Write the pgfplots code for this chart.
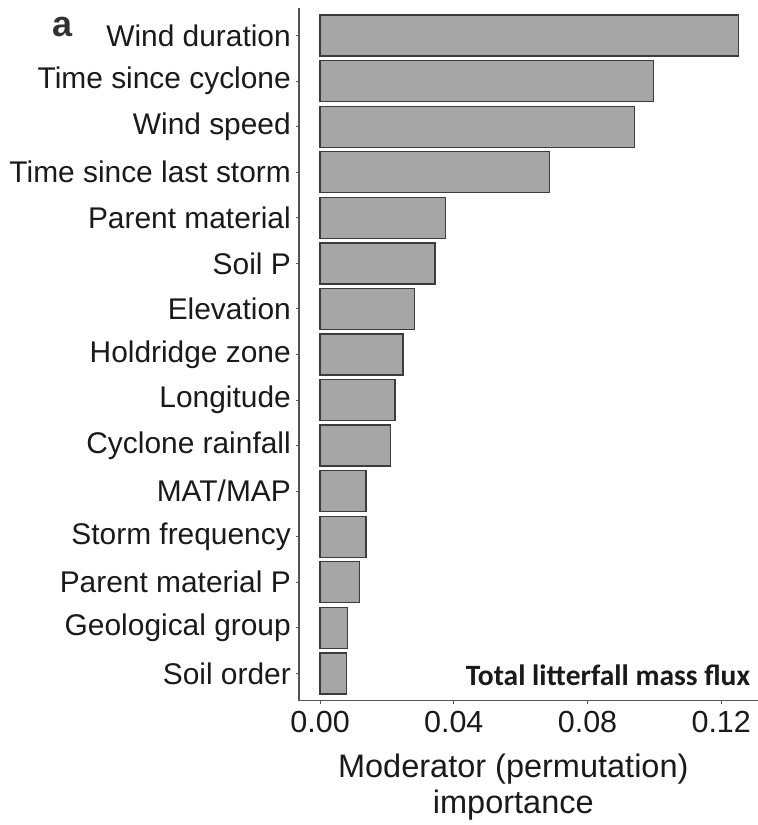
\documentclass[border=0pt]{standalone}
\usepackage{pgfplots}
\pgfplotsset{compat=1.18}
\usepackage{fontspec}
\setmainfont{Liberation Sans}
\newfontfamily\carlito{Carlito}
\definecolor{barfill}{RGB}{166,166,166}
\definecolor{barline}{RGB}{60,60,60}
\definecolor{axisgray}{RGB}{85,85,85}
\definecolor{txt}{RGB}{26,26,26}
\begin{document}
\begin{tikzpicture}
\useasboundingbox (-299pt,-124.3pt) rectangle (459pt,700.7pt);
\begin{axis}[
  anchor=south west, at={(0pt,0pt)},
  scale only axis, width=459pt, height=692.4pt,
  xmin=-0.0063, xmax=0.131, ymin=-0.6, ymax=14.6,
  enlargelimits=false, clip=false,
  axis x line*=bottom, axis y line*=left,
  axis line style={axisgray, line width=1.3pt, -},
  xbar, bar width=41pt,
  xtick={0,0.04,0.08,0.12},
  xticklabel style={/pgf/number format/.cd, fixed, fixed zerofill, precision=2, /tikz/.cd,
    font=\fontsize{30.5}{34}\selectfont, text=txt, anchor=north, inner sep=0pt, yshift=-7pt},
  /pgf/number format/assume math mode=true,
  ytick={0,...,14},
  yticklabels={Soil order, Geological group, Parent material P, Storm frequency, MAT/MAP,
    Cyclone rainfall, Longitude, Holdridge zone, Elevation, Soil P, Parent material,
    Time since last storm, Wind speed, Time since cyclone, Wind duration},
  yticklabel style={font=\fontsize{29.9}{34}\selectfont, text=txt, anchor=east, inner sep=0pt, xshift=-5pt},
  tick align=outside, major tick length=3pt,
  tick style={axisgray, line width=1pt},
]
% permutation importance of each moderator
\addplot[fill=barfill, draw=barline, line width=1.3pt] coordinates {
  (0.0080,0) (0.0082,1) (0.0119,2) (0.0137,3) (0.0137,4)
  (0.0211,5) (0.0224,6) (0.0248,7) (0.0282,8) (0.0344,9)
  (0.0376,10) (0.0687,11) (0.0940,12) (0.0998,13) (0.1252,14)
};
\node[anchor=base east, inner sep=0pt, text=txt, font=\carlito\bfseries\fontsize{29.5}{34}\selectfont]
  at (axis cs:0.1287,-0.27) {Total litterfall mass flux};
\end{axis}
\node[anchor=base west, inner sep=0pt, text=txt!90!white, font=\bfseries\fontsize{36}{40}\selectfont] at (-247pt,663.7pt) {a};
\node[anchor=base, inner sep=0pt, text=txt, font=\fontsize{32.5}{36}\selectfont] at (214.3pt,-76.6pt) {Moderator (permutation)};
\node[anchor=base, inner sep=0pt, text=txt, font=\fontsize{32.5}{36}\selectfont] at (214.3pt,-112.6pt) {importance};
\end{tikzpicture}
\end{document}
